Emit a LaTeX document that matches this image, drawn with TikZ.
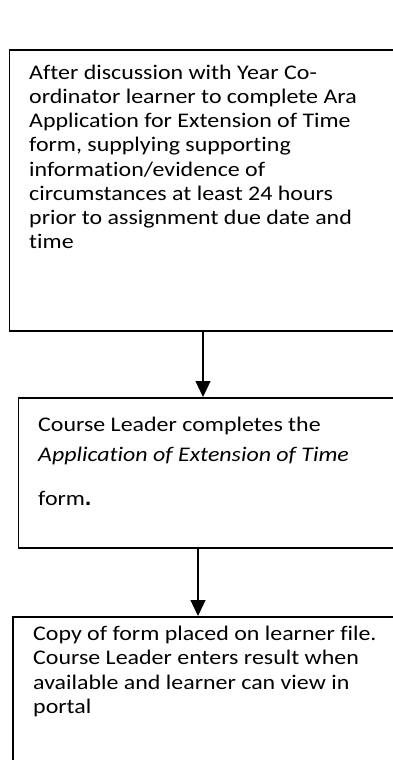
\documentclass[tikz,border=0pt]{standalone}
\usepackage{fontspec}
\setmainfont{Carlito}[FakeStretch=1.15,Ligatures=NoCommon]
\usetikzlibrary{arrows.meta}
\begin{document}
\begin{tikzpicture}[x=1pt,y=-1pt,
  box/.style={draw=black,line width=1.5pt,rectangle,inner sep=0pt,anchor=north west},
  txt/.style={inner sep=0pt,anchor=base west,align=left,font=\fontsize{20.8}{24.2}\selectfont},
  flow/.style={line width=1.2pt,-{Triangle[width=15pt,length=16pt]}}]
\useasboundingbox (0,0) rectangle (393,760);
\clip (0,0) rectangle (393,760);
\fill[white] (0,0) rectangle (393,760);
\node[box,minimum width=420pt,minimum height=280.5pt] (b1) at (8.5,49.5) {};
\node[box,minimum width=420pt,minimum height=150pt] (b2) at (17.7,397) {};
\node[box,minimum width=420pt,minimum height=180pt] (b3) at (12.3,616) {};
% anchors are at the baseline of the last line of each text
\node[txt] (t1) at (29,248.7) {After discussion with Year Co-\\ordinator learner to complete Ara\\Application for Extension of Time\\form, supplying supporting\\information/evidence of\\circumstances at least 24 hours\\prior to assignment due date and\\time};
\node[txt] (t2) at (38,505) {Course Leader completes the\\[5.8pt]\textit{Application of Extension of Time}\\[19pt]form{\fontspec{Liberation Sans}\fontsize{22}{24}\selectfont\textbf{.}}};
\node[txt] (t3) at (33,713.2) {Copy of form placed on learner file.\\Course Leader enters result when\\available and learner can view in\\portal};
\coordinate (a1) at (203,330);
\coordinate (a2) at (198,547);
\draw[flow] (a1) -- (a1 |- b2.north);
\draw[flow] (a2) -- (a2 |- b3.north);
\end{tikzpicture}
\end{document}
